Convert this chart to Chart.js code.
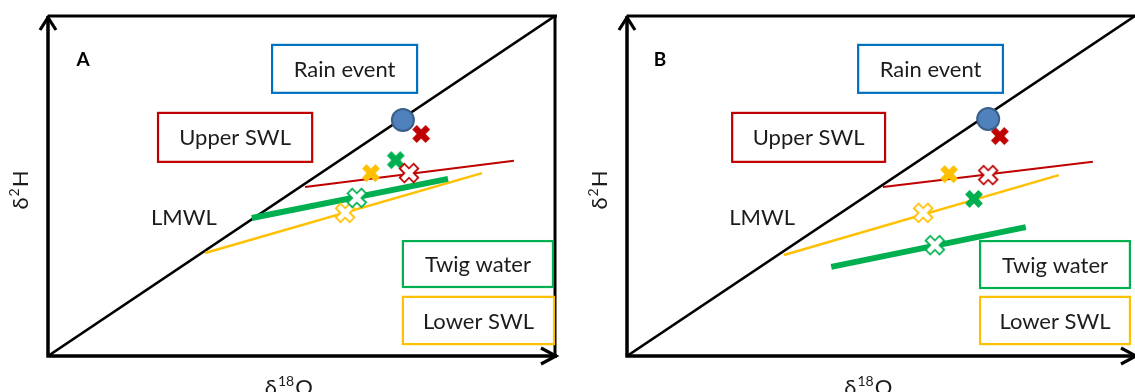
<!DOCTYPE html>
<html>
<head>
<meta charset="utf-8">
<script src="https://cdn.jsdelivr.net/npm/chart.js@4.4.1/dist/chart.umd.min.js"></script>
<style>
  html, body { margin: 0; padding: 0; background: #fff; }
  body { width: 1135px; height: 392px; position: relative; overflow: hidden; }
  .panel { position: absolute; top: 0; }
  canvas { display: block; }
</style>
</head>
<body>
<div class="panel" style="left:0px"><canvas id="panelA" width="567" height="392"></canvas></div>
<div class="panel" style="left:567px"><canvas id="panelB" width="568" height="392"></canvas></div>
<script>
// Conceptual δ18O–δ2H space, both axes run 0–100 (relative units).
const lmwl = [[0, 0], [100, 100]];

// Panel A: evaporation lines and sample positions
const upperLineA = [[50.7, 49.7], [91.9, 57.4]];
const twigLineA  = [[40.2, 40.6], [78.9, 52.1]];
const lowerLineA = [[31.0, 30.3], [85.6, 53.8]];
const rainA      = [[70.0, 69.4]];
const upperA     = [[73.6, 65.3]];   // filled cross
const upperMeanA = [[71.2, 53.8]];   // open cross
const twigA      = [[68.6, 57.6]];
const twigMeanA  = [[60.9, 46.5]];
const lowerA     = [[63.7, 53.8]];
const lowerMeanA = [[58.6, 42.1]];

// Panel B
const upperLineB = [[50.4, 49.7], [91.7, 57.1]];
const twigLineB  = [[40.2, 26.2], [78.5, 37.9]];
const lowerLineB = [[30.9, 29.7], [85.0, 53.2]];
const rainB      = [[71.1, 69.7]];
const upperB     = [[73.4, 64.7]];
const upperMeanB = [[71.1, 53.2]];
const twigB      = [[68.3, 46.2]];
const twigMeanB  = [[60.6, 32.6]];
const lowerB     = [[63.4, 53.5]];
const lowerMeanB = [[58.3, 42.1]];

const labelsText = {
  rain: 'Rain event', upper: 'Upper SWL', twig: 'Twig water', lower: 'Lower SWL', lmwl: 'LMWL'
};

const RED = '#C00000', ORANGE = '#FFC000', GREEN = '#00B050', BLUE = '#0070C0';
const TEXT = '#1c1c1c';
const FONT = "Lato, 'Open Sans', sans-serif";

const pts = arr => arr.map(([x, y]) => ({ x, y }));

// Chunky diagonal cross used as point marker
function crossMark(color, filled) {
  const s = 28;
  const c = document.createElement('canvas');
  c.width = s; c.height = s;
  const g = c.getContext('2d');
  g.translate(s / 2, s / 2);
  g.rotate(Math.PI / 4);
  const L = filled ? 9.4 : 9.8, t = filled ? 3.2 : 3.3;
  const p = [[-t,-L],[t,-L],[t,-t],[L,-t],[L,t],[t,t],[t,L],[-t,L],[-t,t],[-L,t],[-L,-t],[-t,-t]];
  g.beginPath();
  p.forEach(([x, y], i) => i ? g.lineTo(x, y) : g.moveTo(x, y));
  g.closePath();
  if (filled) { g.fillStyle = color; g.fill(); }
  else { g.fillStyle = '#fff'; g.fill(); g.lineWidth = 1.8; g.strokeStyle = color; g.stroke(); }
  return c;
}

function lineSet(data, color, width, order) {
  return { type: 'line', data: pts(data), borderColor: color, borderWidth: width,
           pointRadius: 0, fill: false, order, borderCapStyle: 'butt' };
}
function markSet(data, color, filled) {
  return { type: 'scatter', data: pts(data), pointStyle: crossMark(color, filled),
           pointRadius: 10, order: 1 };
}

// Frame, arrows, text boxes and titles drawn from the chart's scales
const diagramPlugin = {
  id: 'diagram',
  afterDatasetsDraw(chart, args, o) {
    const { ctx } = chart;
    const sx = chart.scales.x, sy = chart.scales.y;
    const X = v => sx.getPixelForValue(v), Y = v => sy.getPixelForValue(v);
    const x0 = X(0), y0 = Y(0), x1 = X(100), y1 = Y(100);
    ctx.save();
    ctx.strokeStyle = '#000';
    ctx.lineCap = 'butt';
    // top and right borders
    ctx.lineWidth = 3;
    ctx.beginPath();
    ctx.moveTo(x0, y1); ctx.lineTo(x1 + 2, y1);
    if (o.rightBorder) { ctx.moveTo(x1, y1); ctx.lineTo(x1, y0); }
    ctx.stroke();
    // axes
    ctx.lineWidth = 3.5;
    ctx.beginPath();
    ctx.moveTo(x0, y0 + 1.5); ctx.lineTo(x0, y1);
    ctx.moveTo(x0 - 1.5, y0); ctx.lineTo(x1 + 2, y0);
    ctx.stroke();
    // arrow heads
    ctx.lineWidth = 3.2;
    ctx.lineJoin = 'miter';
    ctx.beginPath();
    ctx.moveTo(x0 - 8, y1 + 14); ctx.lineTo(x0, y1 + 1.5); ctx.lineTo(x0 + 8, y1 + 14);
    ctx.moveTo(x1 - 14, y0 - 8); ctx.lineTo(x1 + 1, y0); ctx.lineTo(x1 - 14, y0 + 8);
    ctx.stroke();

    // labelled boxes
    ctx.textAlign = 'center';
    ctx.textBaseline = 'middle';
    ctx.font = `22px ${FONT}`;
    o.boxes.forEach(b => {
      const l = X(b.x0), r = X(b.x1), t = Y(b.y0), btm = Y(b.y1);
      ctx.fillStyle = '#fff';
      ctx.fillRect(l, t, r - l, btm - t);
      ctx.lineWidth = 2.2;
      ctx.strokeStyle = b.color;
      ctx.strokeRect(l, t, r - l, btm - t);
      ctx.fillStyle = TEXT;
      ctx.fillText(labelsText[b.key], (l + r) / 2, (t + btm) / 2 + 1);
    });
    ctx.fillStyle = TEXT;
    ctx.fillText(labelsText.lmwl, X(o.lmwlAt[0]), Y(o.lmwlAt[1]));

    // panel letter
    ctx.font = `bold 19px ${FONT}`;
    ctx.fillStyle = '#000';
    ctx.fillText(o.letter, X(o.letterAt[0]), Y(o.letterAt[1]));

    // y title: δ²H (rotated)
    ctx.fillStyle = TEXT;
    ctx.save();
    ctx.translate(x0 - 28, (y0 + y1) / 2 + 4);
    ctx.rotate(-Math.PI / 2);
    ctx.textAlign = 'left';
    ctx.textBaseline = 'alphabetic';
    const big = `22px ${FONT}`, small = `14px ${FONT}`;
    ctx.font = big; const wd = ctx.measureText('δ').width;
    ctx.font = small; const w2 = ctx.measureText('2').width;
    ctx.font = big; const wh = ctx.measureText('H').width;
    let cx = -(wd + w2 + wh + 2) / 2;
    ctx.font = big; ctx.fillText('δ', cx, 8); cx += wd + 1;
    ctx.font = small; ctx.fillText('2', cx, -1); cx += w2 + 1;
    ctx.font = big; ctx.fillText('H', cx, 8);
    ctx.restore();

    // x title: δ18O
    ctx.save();
    ctx.textAlign = 'left';
    ctx.textBaseline = 'alphabetic';
    ctx.font = big; const w1 = ctx.measureText('δ').width;
    ctx.font = small; const w18 = ctx.measureText('18').width;
    ctx.font = big; const wo = ctx.measureText('O').width;
    let tx = X(o.xTitleAt) - (w1 + w18 + wo + 2) / 2;
    const base = y0 + 39;
    ctx.font = big; ctx.fillText('δ', tx, base); tx += w1 + 1;
    ctx.font = small; ctx.fillText('18', tx, base - 9); tx += w18 + 1;
    ctx.font = big; ctx.fillText('O', tx, base);
    ctx.restore();

    ctx.restore();
  }
};

function buildPanel(id, d, opts, padding) {
  return new Chart(document.getElementById(id), {
    type: 'scatter',
    data: {
      datasets: [
        { type: 'scatter', data: pts(d.rain), pointStyle: 'circle', pointRadius: 11,
          backgroundColor: '#4F81BD', borderColor: '#3A5F8B', borderWidth: 2, order: 0 },
        markSet(d.upper, RED, true),
        markSet(d.upperMean, RED, false),
        markSet(d.twig, GREEN, true),
        markSet(d.twigMean, GREEN, false),
        markSet(d.lower, ORANGE, true),
        markSet(d.lowerMean, ORANGE, false),
        lineSet(d.upperLine, RED, 2, 2),
        lineSet(d.twigLine, GREEN, 6, 2),
        lineSet(d.lowerLine, ORANGE, 2.5, 2),
        lineSet(lmwl, '#000', 2.6, 3)
      ]
    },
    options: {
      responsive: false,
      animation: false,
      layout: { padding, autoPadding: false },
      scales: {
        x: { type: 'linear', min: 0, max: 100, display: false },
        y: { type: 'linear', min: 0, max: 100, display: false }
      },
      plugins: { legend: { display: false }, tooltip: { enabled: false }, diagram: opts },
      events: []
    },
    plugins: [diagramPlugin]
  });
}

buildPanel('panelA', {
  rain: rainA, upper: upperA, upperMean: upperMeanA, twig: twigA, twigMean: twigMeanA,
  lower: lowerA, lowerMean: lowerMeanA, upperLine: upperLineA, twigLine: twigLineA, lowerLine: lowerLineA
}, {
  letter: 'A', letterAt: [6.9, 87.1], lmwlAt: [26.8, 40.6], rightBorder: true, xTitleAt: 47.5,
  boxes: [
    { key: 'rain',  color: BLUE,   x0: 44.2, x1: 72.8, y0: 91.5, y1: 77.4 },
    { key: 'upper', color: RED,    x0: 21.7, x1: 52.1, y0: 71.5, y1: 57.1 },
    { key: 'twig',  color: GREEN,  x0: 70.0, x1: 99.6, y0: 33.8, y1: 20.3 },
    { key: 'lower', color: ORANGE, x0: 70.0, x1: 99.8, y0: 17.4, y1: 3.5 }
  ]
}, { left: 48, top: 16, right: 12, bottom: 36 });

buildPanel('panelB', {
  rain: rainB, upper: upperB, upperMean: upperMeanB, twig: twigB, twigMean: twigMeanB,
  lower: lowerB, lowerMean: lowerMeanB, upperLine: upperLineB, twigLine: twigLineB, lowerLine: lowerLineB
}, {
  letter: 'B', letterAt: [6.5, 87.1], lmwlAt: [26.6, 40.6], rightBorder: false, xTitleAt: 47.5,
  boxes: [
    { key: 'rain',  color: BLUE,   x0: 45.5, x1: 74.0, y0: 91.5, y1: 77.4 },
    { key: 'upper', color: RED,    x0: 20.7, x1: 50.8, y0: 71.5, y1: 57.1 },
    { key: 'twig',  color: GREEN,  x0: 69.5, x1: 99.0, y0: 33.8, y1: 20.0 },
    { key: 'lower', color: ORANGE, x0: 69.5, x1: 99.0, y0: 17.4, y1: 3.5 }
  ]
}, { left: 60, top: 16, right: 0, bottom: 36 });
</script>
</body>
</html>
